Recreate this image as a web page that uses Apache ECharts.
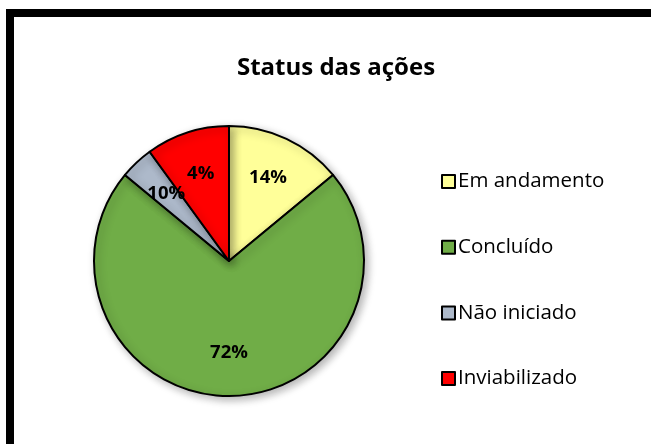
<!DOCTYPE html>
<html>
<head>
<meta charset="utf-8">
<script src="https://cdn.jsdelivr.net/npm/echarts@6/dist/echarts.min.js"></script>
<style>
  html, body { margin: 0; padding: 0; background: #fff; }
  #chart { width: 651px; height: 444px; }
</style>
</head>
<body>
<div id="chart"></div>
<script>
var categories = ['Em andamento', 'Concluído', 'Não iniciado', 'Inviabilizado']
var values = [14, 72, 4, 10]
// rótulos como aparecem no gráfico original
var labels = ['14%', '72%', '10%', '4%']
var colors = ['#FFFF99', '#70AD47', '#ADB9CA', '#FF0000']

var pieCenter = [229, 261]
var myChart = echarts.init(document.getElementById('chart'))

var arr = []
for (var i = 0; i < categories.length; i++) {
    arr.push({
        name: categories[i],
        value: values[i],
        itemStyle: { color: colors[i] }
    })
}

var option = {
    animation: false,
    title: {
        text: 'Status das ações',
        left: 331,
        top: 51,
        textAlign: 'center',
        textStyle: {
            fontFamily: 'Open Sans',
            fontWeight: 'bold',
            fontSize: 24,
            color: '#000'
        }
    },
    legend: {
        orient: 'vertical',
        left: 436,
        top: 166,
        itemWidth: 13,
        itemHeight: 13,
        itemGap: 44.7,
        icon: 'rect',
        data: categories,
        itemStyle: { borderColor: '#000', borderWidth: 2 },
        textStyle: {
            fontFamily: 'Open Sans',
            fontSize: 20.5,
            lineHeight: 20,
            color: '#000',
            padding: [0, 0, 0, -2]
        }
    },
    graphic: [{
        type: 'rect',
        shape: { x: 10, y: 13, width: 800, height: 600 },
        style: { fill: null, stroke: '#000', lineWidth: 8 },
        z: 100
    }],
    series: [{
        type: 'pie',
        center: pieCenter,
        radius: 135,
        startAngle: 90,
        clockwise: true,
        data: arr,
        itemStyle: {
            borderColor: '#000',
            borderWidth: 2,
            shadowBlur: 8,
            shadowOffsetX: 3,
            shadowOffsetY: 3,
            shadowColor: 'rgba(0, 0, 0, 0.3)'
        },
        label: {
            show: true,
            position: 'inside',
            formatter: function (p) { return labels[p.dataIndex] },
            fontFamily: 'Open Sans',
            fontWeight: 'bold',
            fontSize: 18.5,
            color: '#000'
        },
        labelLine: { show: false },
        labelLayout: function (params) {
            var r = params.labelRect
            var lx = r.x + r.width / 2
            var ly = r.y + r.height / 2
            var k = 1.3
            return {
                x: pieCenter[0] + (lx - pieCenter[0]) * k,
                y: pieCenter[1] + (ly - pieCenter[1]) * k,
                align: 'center',
                verticalAlign: 'middle'
            }
        }
    }]
}
myChart.setOption(option, true)
</script>
</body>
</html>
